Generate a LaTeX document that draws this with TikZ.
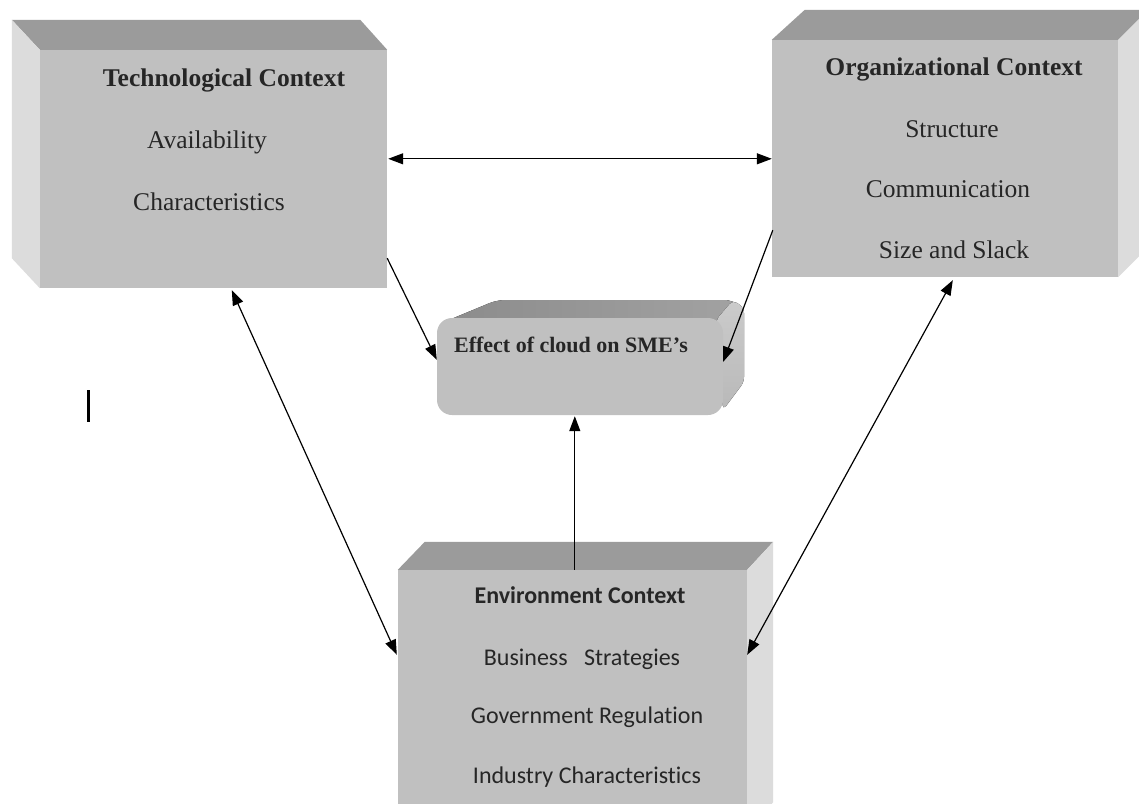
\documentclass[tikz,border=0pt]{standalone}
\usepackage{fontspec}
\setmainfont{Liberation Serif}
\newfontfamily\calib[Ligatures=NoCommon]{Carlito}
\usetikzlibrary{calc,arrows.meta}
\definecolor{frontc}{HTML}{C0C0C0}
\definecolor{topc}{HTML}{9B9B9B}
\definecolor{sidec}{HTML}{DCDCDC}
\begin{document}
\begin{tikzpicture}[x=1pt,y=-1pt,
  face/.style={fill=frontc, draw=none, inner sep=0pt},
  toptxt/.style={anchor=base, font=\bfseries\fontsize{25.5}{30}\selectfont, text=black!85},
  itemtxt/.style={anchor=base, font=\fontsize{25.5}{30}\selectfont, text=black!85},
  envtop/.style={anchor=base, font=\calib\bfseries\fontsize{24}{28}\selectfont, text=black!85},
  envitem/.style={anchor=base, font=\calib\fontsize{24}{28}\selectfont, text=black!85},
  conn/.style={-{Triangle[length=15pt,width=11pt]}, line width=1.2pt},
  dconn/.style={{Triangle[length=15pt,width=11pt]}-{Triangle[length=15pt,width=11pt]}, line width=1.2pt}]
\useasboundingbox (0,0) rectangle (1139,803);
\fill[white] (0,0) rectangle (1139,803);

% Technological box
\node[face, minimum width=347pt, minimum height=238pt] (tech) at (213.5,169) {};
\fill[topc] (tech.north west) -- ++(-28,-30) -- ($(tech.north east)+(-27,-30)$) -- (tech.north east) -- cycle;
\fill[sidec] (tech.north west) -- ++(-28,-30) -- ($(tech.south west)+(-28,-30)$) -- (tech.south west) -- cycle;

% Organizational box
\node[face, minimum width=346pt, minimum height=237pt] (org) at (945,158.5) {};
\fill[topc] (org.north west) -- ++(33,-30) -- ($(org.north east)+(30,-30)$) -- (org.north east) -- cycle;
\fill[sidec] (org.north east) -- ++(30,-30) -- ($(org.south east)+(30,-30)$) -- (org.south east) -- cycle;

% Environment box
\node[face, minimum width=349pt, minimum height=260pt] (env) at (572.5,700) {};
\fill[topc] (env.north west) -- ++(27,-28) -- ($(env.north east)+(26,-28)$) -- (env.north east) -- cycle;
\fill[sidec] (env.north east) -- ++(26,-28) -- ($(env.south east)+(26,-28)$) -- (env.south east) -- cycle;

% Effect box (rounded, extruded)
\fill[left color=topc!90!black, right color=topc!80!frontc, rounded corners=8pt] (444,322) -- (497,300) -- (733,300) -- (744,310) -- (722,324) -- cycle;
\fill[top color=frontc!60!sidec, bottom color=frontc!80!topc, rounded corners=5pt] (716,320) -- (733,300) -- (744,308) -- (744,382) -- (723,410) -- cycle;
\node[face, rounded corners=15pt, minimum width=286pt, minimum height=97pt] (eff) at (580,366.5) {};

% Texts
\node[toptxt] (t0) at (224,86) {Technological Context};
\node[itemtxt] (t1) at (207,148) {Availability};
\node[itemtxt] (t2) at (209,210) {Characteristics};

\node[toptxt] (o0) at (954,75) {Organizational Context};
\node[itemtxt] (o1) at (952,137) {Structure};
\node[itemtxt] (o2) at (948,197) {Communication};
\node[itemtxt] (o3) at (954,258) {Size and Slack};

\node[anchor=base, font=\bfseries\fontsize{22}{26}\selectfont, text=black!85] (e0) at (571,352) {Effect of cloud on SME’s};

\node[envtop] (v0) at (580,603) {Environment Context};
\node[envitem] (v1) at (582,665) {Business\ \ \ Strategies};
\node[envitem] (v2) at (587,723) {Government Regulation};
\node[envitem] (v3) at (587,783) {Industry Characteristics};

% Connectors
\draw[dconn] ($(tech.north east)+(1,109)$) -- ($(org.north west)+(0,119)$);
\draw[conn] ($(tech.south east)+(0,-30)$) -- ($(eff.north west)+(0,42)$);
\draw[conn] ($(org.south west)+(1,-47)$) -- ($(eff.north east)+(0,44)$);
\draw[conn] ($(env.north west)+(177,0)$) -- ($(eff.south west)+(138,1)$);
\draw[dconn] ($(tech.south west)+(192,2)$) -- ($(env.north west)+(-1,85)$);
\draw[dconn] ($(org.south west)+(181,3)$) -- ($(env.north east)+(0,85)$);

% stray cursor mark
\coordinate (c1) at (88,390);
\coordinate (c2) at (88,422);
\draw[line width=3pt] (c1) -- (c2);
\end{tikzpicture}
\end{document}
